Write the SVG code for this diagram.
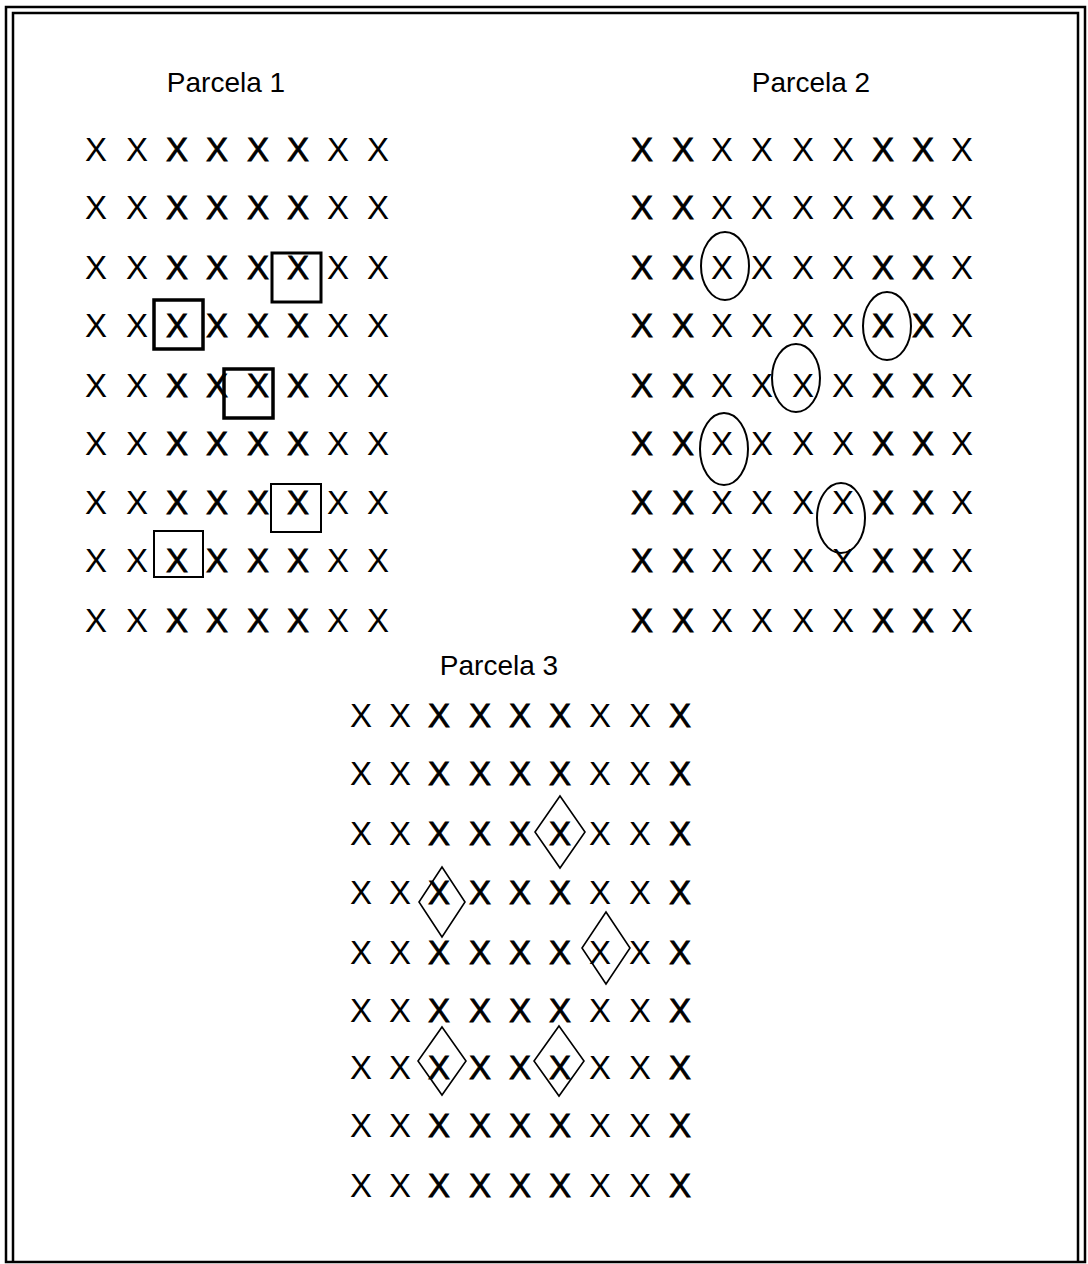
<svg xmlns="http://www.w3.org/2000/svg" width="1088" height="1264" viewBox="0 0 1088 1264">
<style>
.t{font-family:"Liberation Sans",Arial,sans-serif;font-size:28px;fill:#000;text-anchor:middle}
.x{font-family:"Liberation Sans",Arial,sans-serif;font-size:33px;fill:#000;text-anchor:middle}
.b{stroke:#000;stroke-width:0.8}
.box{fill:none;stroke:#000}
.ell{fill:none;stroke:#000;stroke-width:2}
.dia{fill:none;stroke:#000;stroke-width:1.6}
.frame{fill:none;stroke:#000;stroke-width:2.5}
</style>
<rect width="1088" height="1264" fill="#fff"/>
<g id="frame">
<rect class="frame" x="6" y="7" width="1079" height="1255"/>
<path class="frame" d="M13 1262 V13 H1078 V1262"/>
</g>
<g id="parcela1">
<text class="t" x="226" y="92">Parcela 1</text>
<text class="x" y="161"><tspan x="96 137">XX</tspan><tspan class="b" x="177 217 258 298">XXXX</tspan><tspan x="338 378">XX</tspan></text>
<text class="x" y="219"><tspan x="96 137">XX</tspan><tspan class="b" x="177 217 258 298">XXXX</tspan><tspan x="338 378">XX</tspan></text>
<text class="x" y="279"><tspan x="96 137">XX</tspan><tspan class="b" x="177 217 258 298">XXXX</tspan><tspan x="338 378">XX</tspan></text>
<text class="x" y="337"><tspan x="96 137">XX</tspan><tspan class="b" x="177 217 258 298">XXXX</tspan><tspan x="338 378">XX</tspan></text>
<text class="x" y="397"><tspan x="96 137">XX</tspan><tspan class="b" x="177 217 258 298">XXXX</tspan><tspan x="338 378">XX</tspan></text>
<text class="x" y="455"><tspan x="96 137">XX</tspan><tspan class="b" x="177 217 258 298">XXXX</tspan><tspan x="338 378">XX</tspan></text>
<text class="x" y="514"><tspan x="96 137">XX</tspan><tspan class="b" x="177 217 258 298">XXXX</tspan><tspan x="338 378">XX</tspan></text>
<text class="x" y="572"><tspan x="96 137">XX</tspan><tspan class="b" x="177 217 258 298">XXXX</tspan><tspan x="338 378">XX</tspan></text>
<text class="x" y="632"><tspan x="96 137">XX</tspan><tspan class="b" x="177 217 258 298">XXXX</tspan><tspan x="338 378">XX</tspan></text>
<rect class="box" x="272" y="253" width="49" height="49" stroke-width="3"/>
<rect class="box" x="154" y="300" width="49" height="49" stroke-width="3.5"/>
<rect class="box" x="224" y="369" width="49" height="49" stroke-width="3.5"/>
<rect class="box" x="271" y="484" width="50" height="48" stroke-width="2"/>
<rect class="box" x="154" y="531" width="49" height="46" stroke-width="2"/>
</g>
<g id="parcela2">
<text class="t" x="811" y="92">Parcela 2</text>
<text class="x" y="161"><tspan class="b" x="642 683">XX</tspan><tspan x="722 762 803 843">XXXX</tspan><tspan class="b" x="883 923">XX</tspan><tspan x="962">X</tspan></text>
<text class="x" y="219"><tspan class="b" x="642 683">XX</tspan><tspan x="722 762 803 843">XXXX</tspan><tspan class="b" x="883 923">XX</tspan><tspan x="962">X</tspan></text>
<text class="x" y="279"><tspan class="b" x="642 683">XX</tspan><tspan x="722 762 803 843">XXXX</tspan><tspan class="b" x="883 923">XX</tspan><tspan x="962">X</tspan></text>
<text class="x" y="337"><tspan class="b" x="642 683">XX</tspan><tspan x="722 762 803 843">XXXX</tspan><tspan class="b" x="883 923">XX</tspan><tspan x="962">X</tspan></text>
<text class="x" y="397"><tspan class="b" x="642 683">XX</tspan><tspan x="722 762 803 843">XXXX</tspan><tspan class="b" x="883 923">XX</tspan><tspan x="962">X</tspan></text>
<text class="x" y="455"><tspan class="b" x="642 683">XX</tspan><tspan x="722 762 803 843">XXXX</tspan><tspan class="b" x="883 923">XX</tspan><tspan x="962">X</tspan></text>
<text class="x" y="514"><tspan class="b" x="642 683">XX</tspan><tspan x="722 762 803 843">XXXX</tspan><tspan class="b" x="883 923">XX</tspan><tspan x="962">X</tspan></text>
<text class="x" y="572"><tspan class="b" x="642 683">XX</tspan><tspan x="722 762 803 843">XXXX</tspan><tspan class="b" x="883 923">XX</tspan><tspan x="962">X</tspan></text>
<text class="x" y="632"><tspan class="b" x="642 683">XX</tspan><tspan x="722 762 803 843">XXXX</tspan><tspan class="b" x="883 923">XX</tspan><tspan x="962">X</tspan></text>
<ellipse class="ell" cx="725" cy="266" rx="24" ry="34"/>
<ellipse class="ell" cx="887" cy="326" rx="24" ry="34"/>
<ellipse class="ell" cx="796" cy="378" rx="24" ry="34"/>
<ellipse class="ell" cx="724" cy="449" rx="24" ry="36"/>
<ellipse class="ell" cx="841" cy="518" rx="24" ry="35"/>
</g>
<g id="parcela3">
<text class="t" x="499" y="675">Parcela 3</text>
<text class="x" y="727"><tspan x="361 400">XX</tspan><tspan class="b" x="439 480 520 560">XXXX</tspan><tspan x="600 640">XX</tspan><tspan class="b" x="680">X</tspan></text>
<text class="x" y="785"><tspan x="361 400">XX</tspan><tspan class="b" x="439 480 520 560">XXXX</tspan><tspan x="600 640">XX</tspan><tspan class="b" x="680">X</tspan></text>
<text class="x" y="845"><tspan x="361 400">XX</tspan><tspan class="b" x="439 480 520 560">XXXX</tspan><tspan x="600 640">XX</tspan><tspan class="b" x="680">X</tspan></text>
<text class="x" y="904"><tspan x="361 400">XX</tspan><tspan class="b" x="439 480 520 560">XXXX</tspan><tspan x="600 640">XX</tspan><tspan class="b" x="680">X</tspan></text>
<text class="x" y="964"><tspan x="361 400">XX</tspan><tspan class="b" x="439 480 520 560">XXXX</tspan><tspan x="600 640">XX</tspan><tspan class="b" x="680">X</tspan></text>
<text class="x" y="1022"><tspan x="361 400">XX</tspan><tspan class="b" x="439 480 520 560">XXXX</tspan><tspan x="600 640">XX</tspan><tspan class="b" x="680">X</tspan></text>
<text class="x" y="1079"><tspan x="361 400">XX</tspan><tspan class="b" x="439 480 520 560">XXXX</tspan><tspan x="600 640">XX</tspan><tspan class="b" x="680">X</tspan></text>
<text class="x" y="1137"><tspan x="361 400">XX</tspan><tspan class="b" x="439 480 520 560">XXXX</tspan><tspan x="600 640">XX</tspan><tspan class="b" x="680">X</tspan></text>
<text class="x" y="1197"><tspan x="361 400">XX</tspan><tspan class="b" x="439 480 520 560">XXXX</tspan><tspan x="600 640">XX</tspan><tspan class="b" x="680">X</tspan></text>
<polygon class="dia" points="560,796 585,832 560,868 535,832"/>
<polygon class="dia" points="442,867 465,902 442,937 419,902"/>
<polygon class="dia" points="606,912 630,948 606,984 582,948"/>
<polygon class="dia" points="442,1027 466,1061 442,1095 418,1061"/>
<polygon class="dia" points="559,1026 584,1061 559,1096 534,1061"/>
</g>
</svg>
